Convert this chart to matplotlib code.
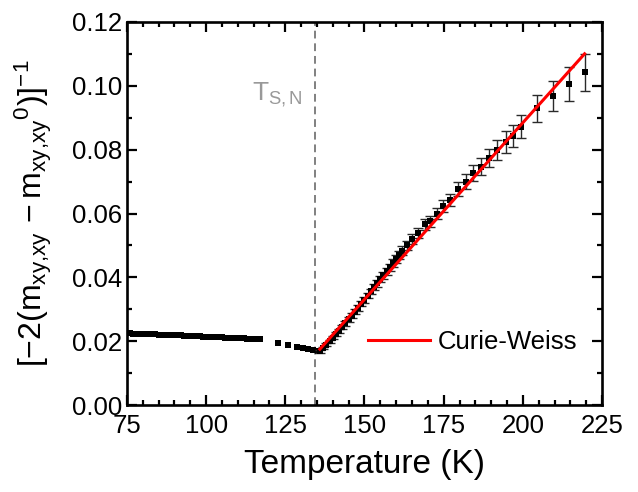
import numpy as np
import matplotlib.pyplot as plt

plt.rcParams['font.family'] = ['Liberation Sans', 'DejaVu Sans']
plt.rcParams['mathtext.fontset'] = 'custom'
plt.rcParams['mathtext.rm'] = 'Liberation Sans'
plt.rcParams['mathtext.it'] = 'Liberation Sans'
plt.rcParams['mathtext.default'] = 'regular'

# low temperature data (below transition), no error bars
T_low = [75, 76, 77, 78, 79, 80, 81, 82, 83, 84, 85, 86, 87, 88, 89, 90,
         91, 92, 93, 94, 95, 96, 97, 98, 99, 100, 101, 102, 103, 104, 105,
         106, 107, 108, 109, 110, 111, 112, 113, 114, 115, 116, 117,
         122.8, 126.0, 128.6, 130.7, 132.3, 133.8, 135.4]
y_low = [0.02255, 0.02245, 0.02240, 0.02238, 0.02230, 0.02226, 0.02222, 0.02218,
         0.02214, 0.02212, 0.02205, 0.02200, 0.02198, 0.02195, 0.02188, 0.02185,
         0.02180, 0.02178, 0.02172, 0.02168, 0.02163, 0.02160, 0.02155, 0.02150,
         0.02146, 0.02142, 0.02138, 0.02133, 0.02128, 0.02124, 0.02120, 0.02114,
         0.02110, 0.02106, 0.02100, 0.02096, 0.02092, 0.02086, 0.02082, 0.02077,
         0.02072, 0.02066, 0.02060,
         0.0193, 0.0187, 0.0183, 0.0180, 0.0176, 0.0172, 0.0169]

# high temperature data with error bars
T_high = [136, 137, 138, 139, 140, 141, 142, 143, 144, 145, 146, 147, 148, 149,
          150, 151, 152, 153, 154, 155, 156, 157, 158, 159, 160, 161, 162,
          163.3, 165.0, 167.0, 169.1, 170.7, 173.0, 174.7, 177.0, 179.5, 182.1,
          184.4, 186.9, 189.4, 191.9, 194.6, 197.0, 199.4, 204.6, 209.6, 214.7, 219.5]
y_high = [0.0168, 0.0178, 0.0189, 0.0200, 0.0211, 0.0222, 0.0233, 0.0245, 0.0256,
          0.0268, 0.0280, 0.0292, 0.0304, 0.0317, 0.0330, 0.0343, 0.0356, 0.0369,
          0.0381, 0.0394, 0.0406, 0.0419, 0.0432, 0.0445, 0.0458, 0.0470, 0.0484,
          0.0501, 0.0520, 0.0538, 0.0566, 0.0576, 0.0600, 0.0623, 0.0642, 0.0676,
          0.0700, 0.0726, 0.0747, 0.0774, 0.0799, 0.0824, 0.0843, 0.0872, 0.0929,
          0.0968, 0.1006, 0.1042]
err_high = [0.0004, 0.0004, 0.0005, 0.0005, 0.0005, 0.0006, 0.0006, 0.0006, 0.0007,
            0.0007, 0.0007, 0.0008, 0.0008, 0.0008, 0.0009, 0.0009, 0.0009, 0.0010,
            0.0010, 0.0010, 0.0011, 0.0011, 0.0011, 0.0012, 0.0012, 0.0013, 0.0013,
            0.0014, 0.0015, 0.0016, 0.0017, 0.0017, 0.0018, 0.0019, 0.0020, 0.0022,
            0.0023, 0.0025, 0.0027, 0.0029, 0.0031, 0.0033, 0.0035, 0.0037, 0.0043,
            0.0048, 0.0052, 0.0057]

# Curie-Weiss fit: y = (T - theta) / C
theta = 120.1
inv_C = 0.001107
T_fit = [135.9, 219.5]

T_SN = 134.4

fig = plt.figure(figsize=(6.38, 4.92), dpi=100)
ax = fig.add_axes([0.199, 0.1768, 0.7446, 0.7785])

ax.axvline(T_SN, color='#808080', ls=(0, (4, 2.5)), lw=1.4, zorder=1)

ax.plot(T_low, y_low, 's', color='black', ms=4, mew=0, zorder=2)
ax.errorbar(T_high, y_high, yerr=err_high, fmt='none', ecolor='#2a2a2a',
            elinewidth=1, capsize=3.5, capthick=1, zorder=2)
ax.plot(T_high, y_high, 's', color='black', ms=4.5, mew=0, zorder=2)

fit_y = [inv_C * (t - theta) for t in T_fit]
ax.plot(T_fit, fit_y, color='red', lw=2.2, zorder=3, label='Curie-Weiss')

ax.text(130.5, 0.0955, r'T$_{S,N}$', color='#999999', fontsize=19,
        ha='right', va='baseline')

ax.set_xlim(75, 225)
ax.set_ylim(0, 0.12)
ax.set_xticks(np.arange(75, 226, 25))
ax.set_xticks(np.arange(75, 226, 5), minor=True)
ax.set_yticks(np.arange(0, 0.121, 0.02))
ax.set_yticks(np.arange(0, 0.121, 0.01), minor=True)
ax.yaxis.set_major_formatter(plt.FormatStrFormatter('%.2f'))

ax.tick_params(which='both', direction='in', top=True, right=True,
               labelsize=18.5, width=1.6)
ax.tick_params(which='major', length=7)
ax.tick_params(which='minor', length=3.5)
ax.tick_params(axis='x', pad=6.5)
for s in ax.spines.values():
    s.set_linewidth(1.9)

ax.set_xlabel('Temperature (K)', fontsize=24, labelpad=8)
ax.set_ylabel(r'$[-2(m_{xy{,}xy}\,-m_{xy{,}xy}{}^{0})]^{-1}$', fontsize=23, labelpad=13)

ax.legend(loc='center left', bbox_to_anchor=(0.508, 0.1645), frameon=False,
          fontsize=18.5, handlelength=2.4, handletextpad=0.3,
          borderaxespad=0, borderpad=0)

fig.savefig('out.png', dpi=100)
